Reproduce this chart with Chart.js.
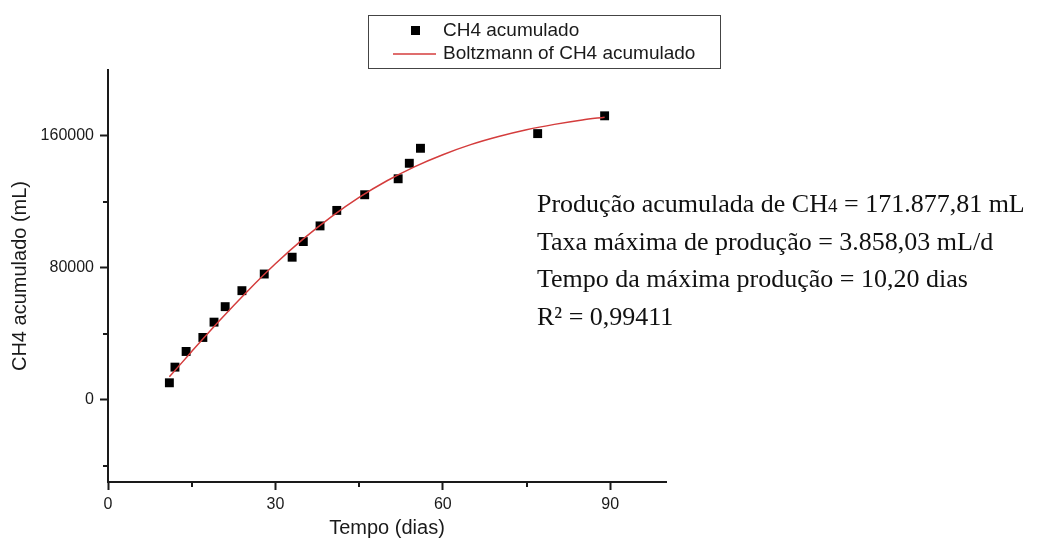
<!DOCTYPE html>
<html>
<head>
<meta charset="utf-8">
<script src="https://cdn.jsdelivr.net/npm/chart.js@4/dist/chart.umd.min.js"></script>
<style>
  html, body { margin: 0; padding: 0; background: #ffffff; }
  #wrap { width: 1038px; height: 542px; position: relative; }
</style>
</head>
<body>
<div id="wrap"><canvas id="c" width="1038" height="542"></canvas></div>
<script>
// Measured cumulative methane (days, mL)
const dias = [11, 12, 14, 17, 19, 21, 24, 28, 33, 35, 38, 41, 46, 52, 54, 56, 77, 89];
const ch4 = [10200, 19700, 29200, 37700, 47000, 56400, 66100, 76200, 86400, 95900,
             105400, 114800, 124300, 134000, 143400, 152500, 161400, 172200];

// Boltzmann fitted curve, sampled along the time axis
const ajusteDias = [11, 15, 20, 25, 30, 35, 40, 45, 50, 55, 60, 65, 70, 75, 80, 85, 89];
const ajusteCH4 = [13800, 29200, 48000, 65800, 82400, 97500, 110900, 122700, 132800,
                   141400, 148600, 154700, 159600, 163700, 167000, 169700, 171400];

// Axis ticks
const xTicks = [0, 30, 60, 90];
const xMinor = [15, 45, 75];
const yTicks = [0, 80000, 160000];
const yMinor = [-40000, 40000, 120000];

const seriesNames = ['CH4 acumulado', 'Boltzmann of CH4 acumulado'];
const notas = [
  'Produção acumulada de CH4 = 171.877,81 mL',
  'Taxa máxima de produção = 3.858,03 mL/d',
  'Tempo da máxima produção = 10,20 dias',
  'R² = 0,99411'
];

const SANS = '"Liberation Sans", Arial, sans-serif';
const SERIF = '"Liberation Serif", "Times New Roman", serif';
const INK = '#1a1a1a';

// Short secondary tick marks on both axes
const minorTicks = {
  id: 'minorTicks',
  afterDraw(chart) {
    const { ctx, chartArea: a, scales: { x, y } } = chart;
    ctx.save();
    ctx.strokeStyle = INK;
    ctx.lineWidth = 2;
    ctx.beginPath();
    xMinor.forEach(v => {
      const px = Math.round(x.getPixelForValue(v));
      ctx.moveTo(px, a.bottom);
      ctx.lineTo(px, a.bottom + 5);
    });
    yMinor.forEach(v => {
      const py = Math.round(y.getPixelForValue(v));
      ctx.moveTo(a.left - 5, py);
      ctx.lineTo(a.left, py);
    });
    ctx.stroke();
    ctx.restore();
  }
};

// Boxed legend above the plot: marker for points, short line for the fit
const boxLegend = {
  id: 'boxLegend',
  afterDraw(chart) {
    const { ctx } = chart;
    const ds = chart.data.datasets;
    ctx.save();
    ctx.strokeStyle = '#444';
    ctx.lineWidth = 1;
    ctx.strokeRect(368.5, 15.5, 352, 53);
    ctx.font = '19px ' + SANS;
    ctx.fillStyle = INK;
    ctx.textBaseline = 'middle';
    ctx.textAlign = 'left';
    // row 1: square marker
    ctx.fillStyle = ds[0].backgroundColor;
    ctx.fillRect(411, 26, 9, 9);
    ctx.fillStyle = INK;
    ctx.fillText(ds[0].label, 443, 31);
    // row 2: line sample
    ctx.strokeStyle = ds[1].borderColor;
    ctx.lineWidth = ds[1].borderWidth;
    ctx.beginPath();
    ctx.moveTo(393, 54);
    ctx.lineTo(436, 54);
    ctx.stroke();
    ctx.fillText(ds[1].label, 443, 54);
    ctx.restore();
  }
};

// Fit summary text to the right of the curve
const resumo = {
  id: 'resumo',
  afterDraw(chart) {
    const { ctx } = chart;
    ctx.save();
    ctx.fillStyle = '#111';
    ctx.textBaseline = 'alphabetic';
    ctx.textAlign = 'left';
    const x0 = 537;
    const base = 212;
    const step = 37.5;
    notas.forEach((linha, i) => {
      const yb = base + i * step;
      const parts = linha.split('CH4');
      let x = x0;
      parts.forEach((p, k) => {
        ctx.font = '26px ' + SERIF;
        ctx.fillText(p, x, yb);
        x += ctx.measureText(p).width;
        if (k < parts.length - 1) {
          ctx.fillText('CH', x, yb);
          x += ctx.measureText('CH').width;
          ctx.font = '19px ' + SERIF;
          ctx.fillText('4', x, yb);
          x += ctx.measureText('4').width;
        }
      });
    });
    ctx.restore();
  }
};

const ctx = document.getElementById('c').getContext('2d');
new Chart(ctx, {
  type: 'scatter',
  data: {
    datasets: [
      {
        label: seriesNames[0],
        data: dias.map((d, i) => ({ x: d, y: ch4[i] })),
        pointStyle: 'rect',
        pointRadius: 6.3,
        pointHoverRadius: 6.3,
        backgroundColor: '#000000',
        borderColor: '#000000',
        borderWidth: 0,
        showLine: false,
        order: 1
      },
      {
        label: seriesNames[1],
        data: ajusteDias.map((d, i) => ({ x: d, y: ajusteCH4[i] })),
        showLine: true,
        pointRadius: 0,
        borderColor: '#d43c3c',
        backgroundColor: '#d43c3c',
        borderWidth: 1.5,
        cubicInterpolationMode: 'monotone',
        fill: false,
        order: 0
      }
    ]
  },
  options: {
    responsive: false,
    animation: false,
    devicePixelRatio: 1,
    layout: { padding: { top: 70, right: 372, left: 0, bottom: 0 } },
    plugins: {
      legend: { display: false },
      tooltip: { enabled: false }
    },
    scales: {
      x: {
        type: 'linear',
        min: 0,
        max: 100,
        afterBuildTicks: s => { s.ticks = xTicks.map(v => ({ value: v })); },
        afterFit: s => { s.height = 60; },
        ticks: {
          font: { family: SANS, size: 16 },
          color: INK,
          padding: 5,
          maxRotation: 0,
          callback: v => String(v)
        },
        grid: { drawOnChartArea: false, drawTicks: true, tickLength: 8, tickWidth: 2, tickColor: INK },
        border: { display: true, width: 2, color: INK },
        title: {
          display: true,
          text: 'Tempo (dias)',
          font: { family: SANS, size: 20 },
          color: INK,
          padding: { top: 0, bottom: 2 }
        }
      },
      y: {
        type: 'linear',
        min: -50000,
        max: 200000,
        afterBuildTicks: s => { s.ticks = yTicks.map(v => ({ value: v })); },
        afterFit: s => { s.width = 108; },
        ticks: {
          font: { family: SANS, size: 16 },
          color: INK,
          padding: 6,
          callback: v => String(v)
        },
        grid: { drawOnChartArea: false, drawTicks: true, tickLength: 8, tickWidth: 2, tickColor: INK },
        border: { display: true, width: 2, color: INK },
        title: {
          display: true,
          text: 'CH4 acumulado (mL)',
          font: { family: SANS, size: 20 },
          color: INK,
          padding: { top: 8, bottom: 4 }
        }
      }
    }
  },
  plugins: [minorTicks, boxLegend, resumo]
});
</script>
</body>
</html>
